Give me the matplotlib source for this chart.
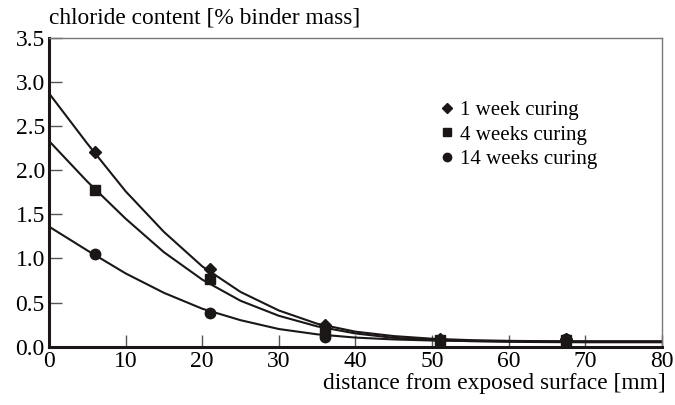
import matplotlib
matplotlib.use("Agg")
import matplotlib.pyplot as plt

plt.rcParams['font.family'] = ['Liberation Serif', 'DejaVu Serif']

# measured chloride contents
depth = [6, 21, 36, 51, 67.5]
cl_1w = [2.20, 0.88, 0.24, 0.09, 0.09]
cl_4w = [1.77, 0.77, 0.18, 0.07, 0.07]
cl_14w = [1.05, 0.38, 0.11, 0.08, 0.09]

# fitted profiles
fit_x = [0, 5, 10, 15, 20, 25, 30, 35, 40, 45, 50, 55, 60, 65, 70, 75, 80]
fit_1w = [2.87, 2.30, 1.76, 1.30, 0.91, 0.62, 0.41, 0.26, 0.17, 0.12, 0.09,
          0.074, 0.066, 0.062, 0.06, 0.06, 0.06]
fit_4w = [2.33, 1.87, 1.45, 1.07, 0.76, 0.52, 0.35, 0.23, 0.15, 0.10, 0.076,
          0.062, 0.055, 0.052, 0.05, 0.05, 0.05]
fit_14w = [1.36, 1.09, 0.83, 0.61, 0.43, 0.30, 0.20, 0.14, 0.103, 0.082,
           0.070, 0.065, 0.062, 0.06, 0.06, 0.06, 0.06]

labels = ['1 week curing', '4 weeks curing', '14 weeks curing']
markers = ['D', 's', 'o']
ink = '#1a1716'

fig = plt.figure(figsize=(6.75, 4.05), dpi=100)
ax = fig.add_axes([0.0726, 0.144, 0.908, 0.763])

for fy in (fit_1w, fit_4w, fit_14w):
    ax.plot(fit_x, fy, color=ink, lw=1.5, zorder=2)

for vals, m, lab in zip((cl_1w, cl_4w, cl_14w), markers, labels):
    ax.plot(depth, vals, ls='none', marker=m, ms=6.5 if m == 'D' else 7.5,
            color=ink, label=lab, zorder=3)

ax.set_xlim(0, 80)
ax.set_ylim(0, 3.5)
ax.set_xticks(range(0, 81, 10))
ax.set_yticks([0, 0.5, 1, 1.5, 2, 2.5, 3, 3.5])
ax.set_yticklabels([f'{v:.1f}' for v in ax.get_yticks()])
ax.tick_params(direction='in', length=9, width=1.0, color='#555555',
               labelsize=17, pad=3)
ax.tick_params(axis='x', pad=3)

for side in ('left', 'bottom'):
    ax.spines[side].set_linewidth(2.2)
    ax.spines[side].set_color(ink)
for side in ('top', 'right'):
    ax.spines[side].set_linewidth(1.0)
    ax.spines[side].set_color('#777777')

fig.text(0.0726, 0.956, 'chloride content [% binder mass]', fontsize=16.8,
         ha='left', va='center')
fig.text(0.986, 0.054, 'distance from exposed surface [mm]', fontsize=16.8,
         ha='right', va='center')

ax.legend(loc='upper left', bbox_to_anchor=(0.641, 0.797), frameon=False,
          fontsize=15, handlelength=0.5, handletextpad=0.35, labelspacing=0.24,
          borderaxespad=0, borderpad=0, markerscale=0.8)

fig.savefig('out.png', dpi=100)
